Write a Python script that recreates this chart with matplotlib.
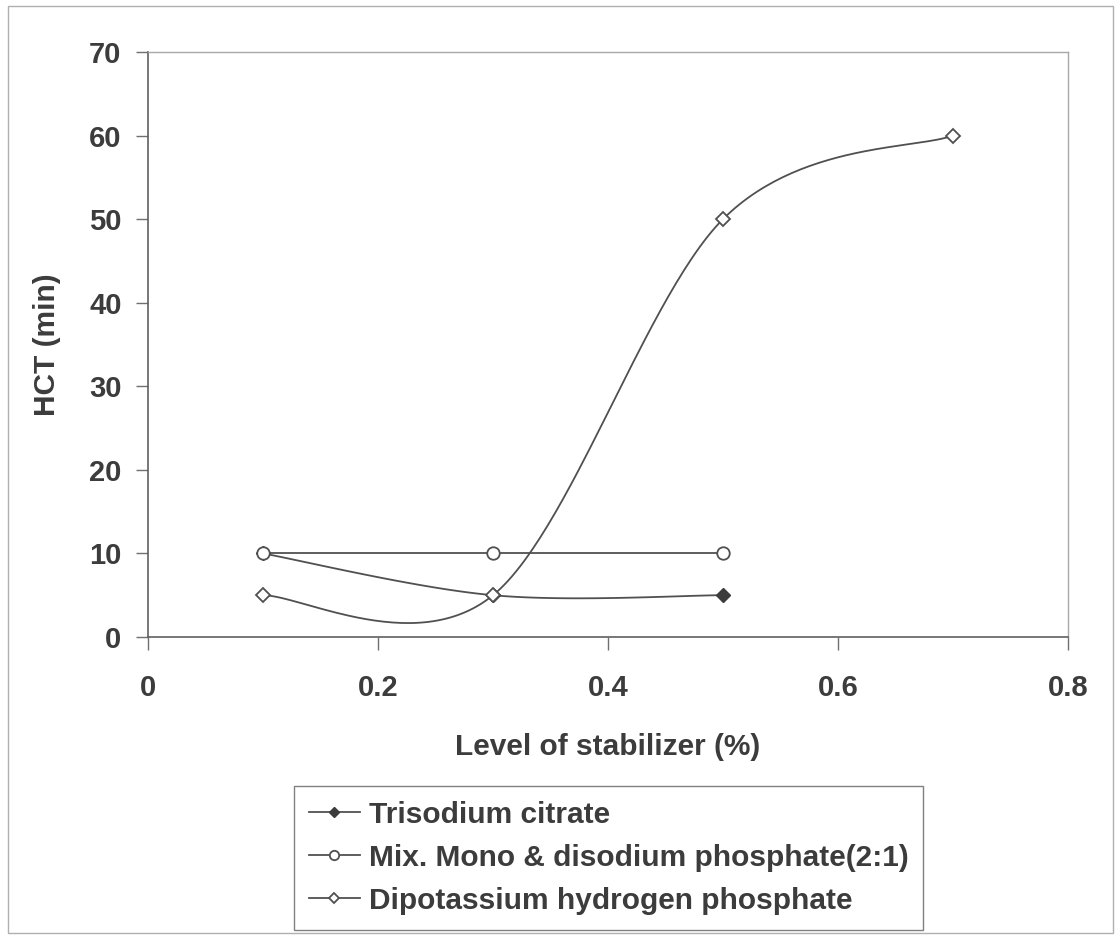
import numpy as np
import matplotlib.pyplot as plt
from matplotlib.patches import Rectangle
from matplotlib.lines import Line2D

plt.rcParams['font.family'] = ['Liberation Sans', 'DejaVu Sans']
plt.rcParams['font.weight'] = 'bold'

level = [0.1, 0.3, 0.5, 0.7]
trisodium = [10, 5, 5]
mix_phosphate = [10, 10, 10]
dipotassium = [5, 5, 50, 60]

names = ['Trisodium citrate',
         'Mix. Mono & disodium phosphate(2:1)',
         'Dipotassium hydrogen phosphate']

ink = '#3c3c3c'
line_col = '#505050'


def smooth(xs, ys, n=60):
    # spreadsheet-style smoothed line: cubic bezier, control points at 1/6 of neighbour span
    xs = np.asarray(xs, float)
    ys = np.asarray(ys, float)
    px = np.concatenate([[xs[0]], xs, [xs[-1]]])
    py = np.concatenate([[ys[0]], ys, [ys[-1]]])
    t = np.linspace(0, 1, n)[:, None]
    out_x, out_y = [], []
    for i in range(len(xs) - 1):
        p0 = np.array([xs[i], ys[i]])
        p3 = np.array([xs[i + 1], ys[i + 1]])
        p1 = p0 + (np.array([px[i + 2], py[i + 2]]) - np.array([px[i], py[i]])) / 6
        p2 = p3 - (np.array([px[i + 3], py[i + 3]]) - np.array([px[i + 1], py[i + 1]])) / 6
        b = ((1 - t) ** 3) * p0 + 3 * ((1 - t) ** 2) * t * p1 + 3 * (1 - t) * t ** 2 * p2 + t ** 3 * p3
        out_x.extend(b[:, 0])
        out_y.extend(b[:, 1])
    return out_x, out_y


fig = plt.figure(figsize=(11.16, 9.36), dpi=100)
ax = fig.add_axes([148 / 1116, 1 - 637 / 936, 920 / 1116, 585 / 936])

series = [
    (level[:3], trisodium, dict(marker='D', markersize=7, markerfacecolor=ink, markeredgecolor=ink)),
    (level[:3], mix_phosphate, dict(marker='o', markersize=9, markerfacecolor='white', markeredgecolor=line_col, markeredgewidth=1.3)),
    (level, dipotassium, dict(marker='D', markersize=7, markerfacecolor='white', markeredgecolor=line_col, markeredgewidth=1.3)),
]
handles = []
for (xs, ys, mk), name in zip(series, names):
    sx, sy = smooth(xs, ys)
    ax.plot(sx, sy, color=line_col, lw=1.3, zorder=2)
    ax.plot(xs, ys, linestyle='none', zorder=3, **mk)
    handles.append(Line2D([], [], color=line_col, lw=1.3, **{k: v * 0.75 if k == 'markersize' else v for k, v in mk.items()}))

ax.set_xlim(0, 0.8)
ax.set_ylim(0, 70)
ax.set_xticks([0, 0.2, 0.4, 0.6, 0.8])
ax.set_xticklabels(['0', '0.2', '0.4', '0.6', '0.8'])
ax.set_yticks(range(0, 71, 10))
ax.tick_params(axis='both', direction='out', length=9, width=1, color='#707070',
               labelsize=21, labelcolor=ink)
ax.tick_params(axis='y', pad=10)
ax.tick_params(axis='x', pad=18)

for s in ['left', 'bottom']:
    ax.spines[s].set_color('#606060')
    ax.spines[s].set_linewidth(1.2)
for s in ['top', 'right']:
    ax.spines[s].set_color('#a8a8a8')
    ax.spines[s].set_linewidth(1.0)

ax.set_xlabel('Level of stabilizer (%)', fontsize=21.5, fontweight='bold', color=ink, labelpad=22)
ax.set_ylabel('HCT (min)', fontsize=21.5, fontweight='bold', color=ink, labelpad=20)

leg = fig.legend(handles, names, loc='upper left', bbox_to_anchor=(294 / 1116, 1 - 786 / 936),
                 fontsize=21.5, frameon=True, fancybox=False, handlelength=1.7,
                 handletextpad=0.3, labelspacing=0.5, borderpad=0.5, borderaxespad=0)
leg.get_frame().set_edgecolor('#606060')
leg.get_frame().set_linewidth(1.0)
for txt in leg.get_texts():
    txt.set_color(ink)

# outer chart border
fig.patches.append(Rectangle((8 / 1116, 3 / 936), 1105 / 1116, 927 / 936,
                             transform=fig.transFigure, fill=False,
                             edgecolor='#b0b0b0', lw=1.0))

fig.savefig('out.png', dpi=100)
